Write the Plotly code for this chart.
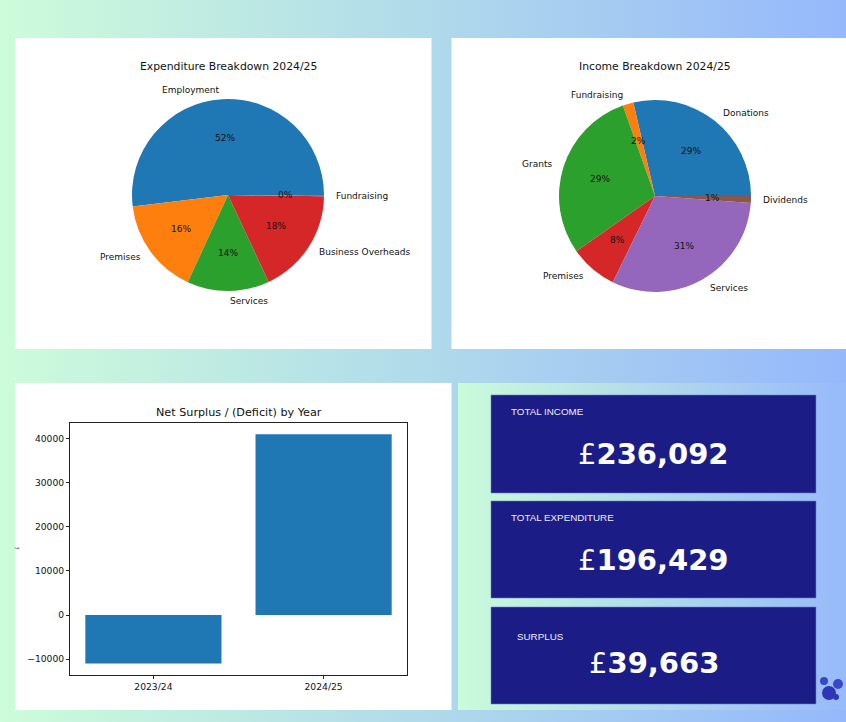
import base64
import math
import plotly.graph_objects as go

W, H = 846, 722

# ---------------- data ----------------
exp_labels = ["Employment", "Premises", "Services", "Business Overheads", "Fundraising"]
exp_values = [102000, 31800, 27200, 35000, 429]

inc_labels = ["Donations", "Fundraising", "Grants", "Premises", "Services", "Dividends"]
inc_values = [67600, 4250, 69200, 18900, 73400, 2742]

years = ["2023/24", "2024/25"]
net_surplus = [-11000, 41000]
y_ticks = [-10000, 0, 10000, 20000, 30000, 40000]

kpi_labels = ["TOTAL INCOME", "TOTAL EXPENDITURE", "SURPLUS"]
kpi_values = [236092, 196429, 39663]

# ---------------- styling ----------------
TAB10 = ["#1f77b4", "#ff7f0e", "#2ca02c", "#d62728", "#9467bd", "#8c564b"]
MPL_FONT = "DejaVu Sans"
NAVY = "#1c1c86"
BG_LEFT, BG_RIGHT = "#cdfcda", "#95b8fb"


def px(x):
    return x / W


def py(y):
    return 1 - y / H


def grad_uri(c0, c1):
    svg = (
        '<svg xmlns="http://www.w3.org/2000/svg" width="200" height="200" '
        'viewBox="0 0 200 200" preserveAspectRatio="none">'
        '<defs><linearGradient id="g" x1="0" y1="0" x2="1" y2="0">'
        f'<stop offset="0" stop-color="{c0}"/><stop offset="1" stop-color="{c1}"/>'
        '</linearGradient></defs><rect width="200" height="200" fill="url(#g)"/></svg>'
    )
    return "data:image/svg+xml;base64," + base64.b64encode(svg.encode()).decode()


fig = go.Figure()

# ---------------- pies ----------------
PIE_R = 96
EXP_C = (228, 195)
INC_C = (655, 196)


def pie_trace(labels, values, center):
    cx, cy = center
    # matplotlib-style: first slice starts at 3 o'clock, going counterclockwise
    rot = 90 - 360 * values[0] / sum(values)
    return go.Pie(
        labels=labels, values=values, sort=False,
        direction="counterclockwise", rotation=rot,
        marker=dict(colors=TAB10[:len(values)], line=dict(width=0)),
        textinfo="none", showlegend=False,
        hoverinfo="label+value+percent",
        domain=dict(x=[px(cx - PIE_R), px(cx + PIE_R)],
                    y=[py(cy + PIE_R), py(cy - PIE_R)]),
    )


def ann(x, y, text, size, family=MPL_FONT, color="#111", xanchor="center", **kw):
    return dict(x=px(x), y=py(y), xref="paper", yref="paper", text=text, showarrow=False,
                xanchor=xanchor, yanchor="middle",
                font=dict(family=family, size=size, color=color), **kw)


def pie_annotations(labels, values, center):
    cx, cy = center
    total = sum(values)
    cum = 0.0
    anns = []
    for lab, v in zip(labels, values):
        frac = v / total
        theta = 2 * math.pi * (cum + frac / 2)
        cum += frac
        c, s = math.cos(theta), math.sin(theta)
        lx, ly = cx + 1.1 * PIE_R * c, cy - 1.1 * PIE_R * s
        anns.append(ann(lx, ly, lab, 9, xanchor="left" if c > 0 else "right"))
        tx, ty = cx + 0.6 * PIE_R * c, cy - 0.6 * PIE_R * s
        anns.append(ann(tx, ty, f"{frac * 100:.0f}%", 9))
    return anns


fig.add_trace(pie_trace(exp_labels, exp_values, EXP_C))
fig.add_trace(pie_trace(inc_labels, inc_values, INC_C))

# ---------------- bar ----------------
fig.add_trace(go.Bar(x=years, y=net_surplus, marker=dict(color=TAB10[0], line=dict(width=0)),
                     width=0.8, showlegend=False, xaxis="x", yaxis="y"))

AX_L, AX_R, AX_T, AX_B = 70, 407, 422.7, 675
axis_common = dict(showline=True, mirror=True, linecolor="#222", linewidth=1,
                   ticks="outside", ticklen=3, tickwidth=0.8, tickcolor="#222",
                   showgrid=False, zeroline=False,
                   tickfont=dict(family=MPL_FONT, size=9.2, color="#111"))

# ---------------- annotations ----------------
annotations = []
annotations += pie_annotations(exp_labels, exp_values, EXP_C)
annotations += pie_annotations(inc_labels, inc_values, INC_C)
annotations.append(ann(228, 66, "Expenditure Breakdown 2024/25", 10.8))
annotations.append(ann(655, 66, "Income Breakdown 2024/25", 10.8))
annotations.append(ann((AX_L + AX_R) / 2, 412, "Net Surplus / (Deficit) by Year", 11.2))
annotations.append(ann(17, (AX_T + AX_B) / 2, "£", 5, textangle=-90))

# KPI cards
card_x0, card_x1 = 491, 816
cards_y = [(395, 493), (501, 598), (607, 704)]
label_pos = [(509, 411), (509, 517), (515, 636)]
value_y = [454, 560, 663]

shapes = [
    dict(type="rect", xref="paper", yref="paper", x0=px(15), x1=px(431.5), y0=py(349), y1=py(38),
         fillcolor="white", line=dict(width=0), layer="below"),
    dict(type="rect", xref="paper", yref="paper", x0=px(451.5), x1=px(W), y0=py(349), y1=py(38),
         fillcolor="white", line=dict(width=0), layer="below"),
    dict(type="rect", xref="paper", yref="paper", x0=px(15), x1=px(451.5), y0=py(710), y1=py(383),
         fillcolor="white", line=dict(width=0), layer="below"),
]
for (y0, y1), (lx, ly), vy, lab, val in zip(cards_y, label_pos, value_y, kpi_labels, kpi_values):
    shapes.append(dict(type="rect", xref="paper", yref="paper", x0=px(card_x0), x1=px(card_x1),
                       y0=py(y1), y1=py(y0), fillcolor=NAVY,
                       line=dict(color="rgba(110,120,210,0.55)", width=1), layer="below"))
    annotations.append(ann(lx, ly, lab, 9.8, family="Liberation Sans", color="#eceefa",
                           xanchor="left"))
    annotations.append(ann((card_x0 + card_x1) / 2, vy, f"£<b>{val:,}</b>", 29, color="white"))

# small logo mark at bottom right
for (cx, cy, r, col) in [(829, 693, 7, "#2b36b8"), (838, 684, 5, "#3a48c8"),
                         (824, 681, 4, "#3a48c8"), (836, 697, 3, "#2b36b8")]:
    shapes.append(dict(type="circle", xref="paper", yref="paper", x0=px(cx - r), x1=px(cx + r),
                       y0=py(cy + r), y1=py(cy - r), fillcolor=col, line=dict(width=0)))

images = [
    dict(source=grad_uri(BG_LEFT, BG_RIGHT), xref="paper", yref="paper", x=0, y=1,
         sizex=1, sizey=1, xanchor="left", yanchor="top", sizing="stretch", layer="below"),
    dict(source=grad_uri("#cafbda", "#97bafa"), xref="paper", yref="paper", x=px(458), y=py(383),
         sizex=px(W) - px(458), sizey=py(383) - py(710), xanchor="left", yanchor="top",
         sizing="stretch", layer="below"),
]

fig.update_layout(
    width=W, height=H,
    margin=dict(l=0, r=0, t=0, b=0),
    paper_bgcolor="#b2d9ea",
    plot_bgcolor="rgba(0,0,0,0)",
    xaxis=dict(domain=[px(AX_L), px(AX_R)], type="category", range=[-0.49, 1.49], **axis_common),
    yaxis=dict(domain=[py(AX_B), py(AX_T)], range=[-13600, 43600], tickvals=y_ticks,
               tickformat="d", **axis_common),
    bargap=0.2,
    shapes=shapes,
    annotations=annotations,
    images=images,
)

fig.write_html("out.html", config={"displayModeBar": False},
               post_script="document.body.style.margin='0';document.body.style.overflow='hidden';")
